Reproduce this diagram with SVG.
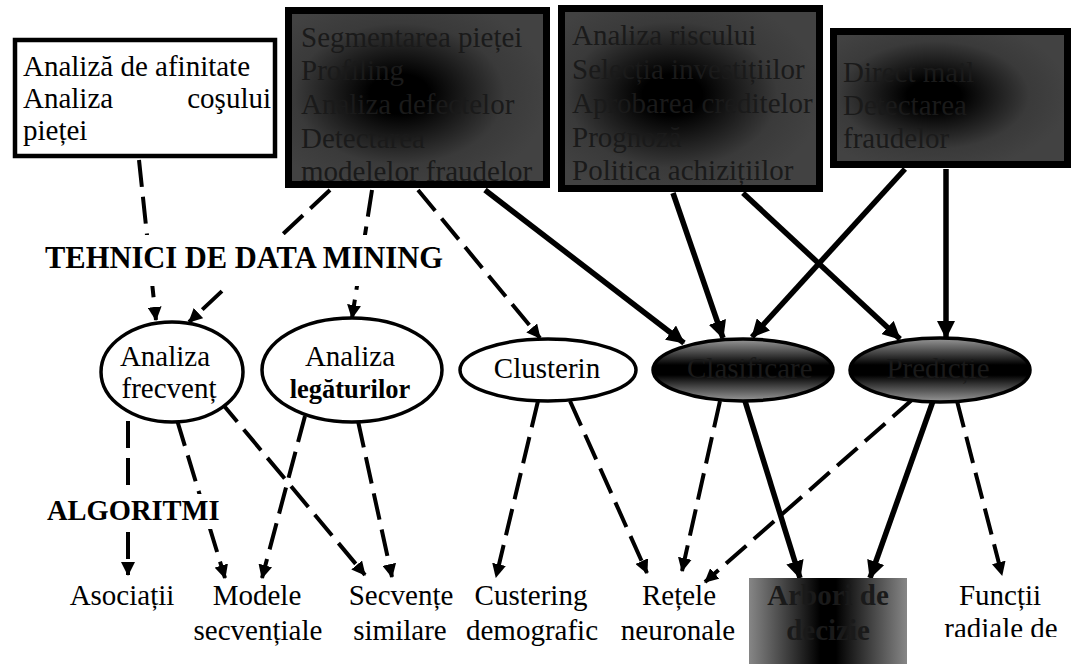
<svg xmlns="http://www.w3.org/2000/svg" width="1074" height="664" viewBox="0 0 1074 664" font-family="'Liberation Serif', Tinos, 'Times New Roman', 'DejaVu Serif', serif">
<style>
text{font-family:'Liberation Serif',Tinos,'Times New Roman','DejaVu Serif',serif;font-size:29px}
.t{fill:#000}
.td{fill:#1a1a1a}
.b{font-weight:bold}
.m{text-anchor:middle}
.dash{fill:none;stroke:#000;stroke-width:4;stroke-dasharray:27 10}
.sol{fill:none;stroke:#000;stroke-width:5.5}
.box{stroke:#000;stroke-width:7}
.ell{fill:#fff;stroke:#000;stroke-width:3.5}
</style>
<defs>
<radialGradient id="gBox" cx="0.43" cy="0.48" r="0.58">
<stop offset="0" stop-color="#000"/>
<stop offset="0.2" stop-color="#000"/>
<stop offset="0.7" stop-color="#3a3a3a"/>
<stop offset="1" stop-color="#424242"/>
</radialGradient>
<linearGradient id="gEll" x1="0" y1="0" x2="0" y2="1">
<stop offset="0" stop-color="#999"/>
<stop offset="0.42" stop-color="#000"/>
<stop offset="0.58" stop-color="#000"/>
<stop offset="1" stop-color="#999"/>
</linearGradient>
<linearGradient id="gArb" x1="0" y1="0" x2="1" y2="0">
<stop offset="0" stop-color="#868686"/>
<stop offset="0.45" stop-color="#000"/>
<stop offset="0.55" stop-color="#000"/>
<stop offset="1" stop-color="#868686"/>
</linearGradient>
<marker id="a1" viewBox="0 0 14 14" refX="13" refY="7" markerWidth="14" markerHeight="14" markerUnits="userSpaceOnUse" orient="auto"><path d="M0,0 L14,7 L0,14 z" fill="#000"/></marker>
<marker id="a2" viewBox="0 0 18 18" refX="17" refY="9" markerWidth="18" markerHeight="18" markerUnits="userSpaceOnUse" orient="auto"><path d="M0,0 L18,9 L0,18 z" fill="#000"/></marker>
<clipPath id="c1"><rect x="17" y="42" width="256" height="112"/></clipPath>
<clipPath id="c2"><rect x="292" y="14" width="251" height="167"/></clipPath>
<clipPath id="c3"><rect x="565" y="12" width="251" height="173"/></clipPath>
<clipPath id="c4"><rect x="837" y="35" width="227" height="126"/></clipPath>
<clipPath id="cCla"><ellipse cx="743" cy="370" rx="88" ry="29"/></clipPath>
<clipPath id="cPre"><ellipse cx="940" cy="370" rx="88" ry="30"/></clipPath>
<clipPath id="cFr"><ellipse cx="172" cy="372" rx="69" ry="48"/></clipPath>
<clipPath id="cArb"><rect x="749" y="578" width="158" height="85"/></clipPath>
<clipPath id="cFun"><rect x="930" y="570" width="144" height="67"/></clipPath>
</defs>
<rect width="1074" height="664" fill="#fff"/>

<g id="connectors">
<line class="dash" x1="139" y1="160" x2="156" y2="320" marker-end="url(#a1)"/>
<line class="dash" x1="330" y1="190" x2="189" y2="322" marker-end="url(#a1)"/>
<line class="dash" x1="372" y1="190" x2="352" y2="318" marker-end="url(#a1)"/>
<line class="dash" x1="418" y1="190" x2="540" y2="338" marker-end="url(#a1)"/>
<line class="sol" x1="485" y1="190" x2="684" y2="343" marker-end="url(#a2)"/>
<line class="sol" x1="673" y1="193" x2="723" y2="338" marker-end="url(#a2)"/>
<line class="sol" x1="743" y1="193" x2="900" y2="339" marker-end="url(#a2)"/>
<line class="sol" x1="905" y1="169" x2="752" y2="337" marker-end="url(#a2)"/>
<line class="sol" x1="946" y1="169" x2="946" y2="338" marker-end="url(#a2)"/>
<line class="dash" x1="128" y1="421" x2="128" y2="575" marker-end="url(#a1)"/>
<line class="dash" x1="177" y1="420" x2="225" y2="578" marker-end="url(#a1)"/>
<line class="dash" x1="220" y1="401" x2="365" y2="575" marker-end="url(#a1)"/>
<line class="dash" x1="305" y1="416" x2="262" y2="578" marker-end="url(#a1)"/>
<line class="dash" x1="358" y1="421" x2="392" y2="577" marker-end="url(#a1)"/>
<line class="dash" x1="538" y1="401" x2="496" y2="577" marker-end="url(#a1)"/>
<line class="dash" x1="570" y1="401" x2="647" y2="573" marker-end="url(#a1)"/>
<line class="dash" x1="720" y1="401" x2="682" y2="571" marker-end="url(#a1)"/>
<line class="dash" x1="913" y1="399" x2="705" y2="582" marker-end="url(#a1)"/>
<line class="dash" x1="957" y1="401" x2="1002" y2="575" marker-end="url(#a1)"/>
<line class="sol" x1="745" y1="401" x2="800" y2="578" marker-end="url(#a2)"/>
<line class="sol" x1="933" y1="401" x2="870" y2="578" marker-end="url(#a2)"/>
</g>

<g id="box1">
<rect x="15" y="40" width="260" height="116" fill="#fff" stroke="#000" stroke-width="4.5"/>
<g clip-path="url(#c1)">
<text class="t" x="23" y="76">Analiză de afinitate</text>
<text class="t" x="23" y="108">Analiza</text>
<text class="t" x="271" y="108" text-anchor="end">coşului</text>
<text class="t" x="23" y="140">pieței</text>
</g>
</g>

<g id="box2">
<rect class="box" x="288.5" y="10.5" width="258" height="174" fill="url(#gBox)"/>
<g clip-path="url(#c2)">
<text class="td" x="301" y="47">Segmentarea pieței</text>
<text class="td" x="301" y="80">Profiling</text>
<text class="td" x="301" y="114">Analiza defectelor</text>
<text class="td" x="301" y="148">Detectarea</text>
<text class="td" x="301" y="181">modelelor fraudelor</text>
</g>
</g>

<g id="box3">
<rect class="box" x="561.5" y="8.5" width="258" height="180" fill="url(#gBox)"/>
<g clip-path="url(#c3)">
<text class="td" x="572" y="45">Analiza riscului</text>
<text class="td" x="572" y="79">Selecția investițiilor</text>
<text class="td" x="572" y="113">Aprobarea creditelor</text>
<text class="td" x="572" y="147">Prognoză</text>
<text class="td" x="572" y="180">Politica achizițiilor</text>
</g>
</g>

<g id="box4">
<rect class="box" x="833.5" y="31.5" width="234" height="133" fill="url(#gBox)"/>
<g clip-path="url(#c4)">
<text class="td" x="843" y="82">Direct mail</text>
<text class="td" x="843" y="115">Detectarea</text>
<text class="td" x="843" y="148">fraudelor</text>
</g>
</g>

<g id="label-tehnici">
<rect x="40" y="235" width="398" height="51" fill="#fff"/>
<text class="t b" x="45" y="268" style="font-size:30.5px">TEHNICI DE DATA MINING</text>
</g>

<g id="label-algoritmi">
<rect x="44" y="494" width="178" height="35" fill="#fff"/>
<text class="t b" x="47" y="520" style="font-size:28.5px">ALGORITMI</text>
</g>

<g id="n-frecventa">
<ellipse class="ell" cx="172" cy="372" rx="71" ry="50"/>
<g clip-path="url(#cFr)">
<text class="t m" x="165" y="366">Analiza</text>
<text class="t m" x="169" y="398">frecvenț</text>
</g>
</g>

<g id="n-legaturi">
<ellipse class="ell" cx="352" cy="370" rx="90" ry="52"/>
<text class="t m" x="350" y="366">Analiza</text>
<text class="t m b" x="350" y="398" style="font-size:26.5px">legăturilor</text>
</g>

<g id="n-cluster">
<ellipse class="ell" cx="548" cy="370" rx="88" ry="31"/>
<text class="t m" x="547" y="378">Clusterin</text>
</g>

<g id="n-clasificare">
<ellipse cx="743" cy="370" rx="90" ry="31" fill="url(#gEll)" stroke="#000" stroke-width="3.5"/>
<g clip-path="url(#cCla)">
<text class="td" x="687" y="378">Clasificare</text>
</g>
</g>

<g id="n-predictie">
<ellipse cx="940" cy="370" rx="90" ry="32" fill="url(#gEll)" stroke="#000" stroke-width="3.5"/>
<g clip-path="url(#cPre)">
<text class="td m" x="938" y="378">Predicție</text>
</g>
</g>

<g id="n-asociatii"><text class="t m" x="122" y="605">Asociații</text></g>
<g id="n-modele">
<text class="t m" x="257" y="605">Modele</text>
<text class="t m" x="258" y="640">secvențiale</text>
</g>
<g id="n-secvente">
<text class="t m" x="401" y="605">Secvențe</text>
<text class="t m" x="400" y="640">similare</text>
</g>
<g id="n-custering">
<text class="t m" x="531" y="605">Custering</text>
<text class="t m" x="532" y="640">demografic</text>
</g>
<g id="n-retele">
<text class="t m" x="679" y="605">Rețele</text>
<text class="t m" x="678" y="640">neuronale</text>
</g>
<g id="n-arbori">
<rect x="749" y="578" width="158" height="86" fill="url(#gArb)"/>
<g clip-path="url(#cArb)">
<text class="td m b" x="828" y="605">Arbori de</text>
<text class="td m b" x="828" y="640">decizie</text>
</g>
</g>
<g id="n-functii">
<text class="t m" x="1000" y="605">Funcții</text>
<g clip-path="url(#cFun)"><text class="t m" x="1001" y="638">radiale de</text></g>
</g>
</svg>
